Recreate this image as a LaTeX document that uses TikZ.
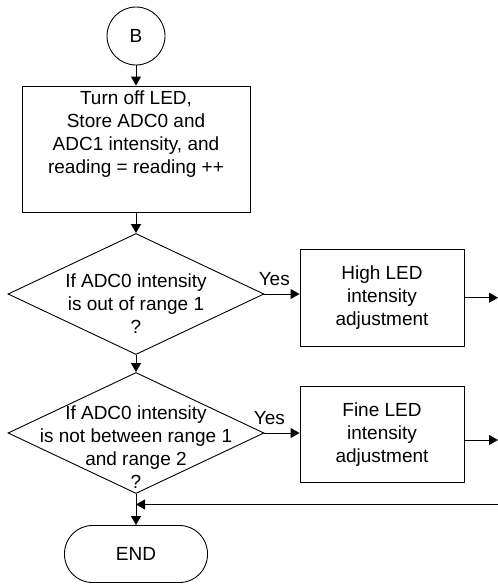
\documentclass[tikz,border=0pt]{standalone}
\usepackage{fontspec}
\setmainfont{Liberation Sans}
\usetikzlibrary{arrows.meta,shapes.geometric}
\begin{document}
\begin{tikzpicture}[
    x=1pt, y=-1pt,
    font=\fontsize{19}{23}\selectfont,
    bloc/.style={draw, line width=0.9pt, align=center, inner sep=0pt},
    losange/.style={draw, diamond, line width=0.9pt, inner sep=0pt,
                    minimum width=256pt, minimum height=121pt},
    texte/.style={align=center, inner sep=0pt},
    fleche/.style={-{Triangle[length=9pt,width=10pt]}, line width=0.9pt}
]
    \useasboundingbox (0,0) rectangle (498,584);

    \node[circle, draw, line width=0.9pt, minimum size=58pt, inner sep=0pt] (depart) at (136,36) {B};
    \node[bloc, minimum width=228pt, minimum height=126pt] (mesure) at (136,149) {};
    \node[texte] (mesuretxt) at (136,134) {Turn off LED,\\Store ADC0 and\\ADC1 intensity, and\\reading = reading ++};
    \node[losange] (test1) at (136,294) {};
    \node[texte] (test1txt) at (136,304) {If ADC0 intensity\\is out of range 1\\?};
    \node[bloc, minimum width=164pt, minimum height=97pt] (reglage1) at (382,297.7) {High LED\\intensity\\adjustment};
    \node[losange] (test2) at (136,433) {};
    \node[texte] (test2txt) at (136,447.5) {If ADC0 intensity\\is not between range 1\\and range 2\\?};
    \node[bloc, minimum width=164pt, minimum height=96pt] (reglage2) at (382,434.7) {Fine LED\\intensity\\adjustment};
    \node[draw, line width=0.9pt, rounded corners=28pt, minimum width=143pt, minimum height=57pt] (fin) at (136,554) {END};

    \coordinate (sortie1) at (498,297.7);
    \coordinate (sortie2) at (498,440);
    \coordinate (retour) at (498,504.5);

    \draw[fleche] (depart) -- (mesure);
    \draw[fleche] (mesure) -- (test1);
    \draw[fleche] (test1.east) -- (test1.east -| reglage1.west) node[pos=0.28, above=5pt] {Yes};
    \draw[fleche] (reglage1.east |- sortie1) -- (sortie1);
    \draw[fleche] (test1) -- (test2);
    \draw[fleche] (test2.east) -- (test2.east -| reglage2.west) node[pos=0.14, above=5pt] {Yes};
    \draw[fleche] (reglage2.east |- sortie2) -- (sortie2);
    \draw[fleche] (test2) -- (fin);
    \draw[fleche] (retour) -- (retour -| test2.south);
\end{tikzpicture}
\end{document}
